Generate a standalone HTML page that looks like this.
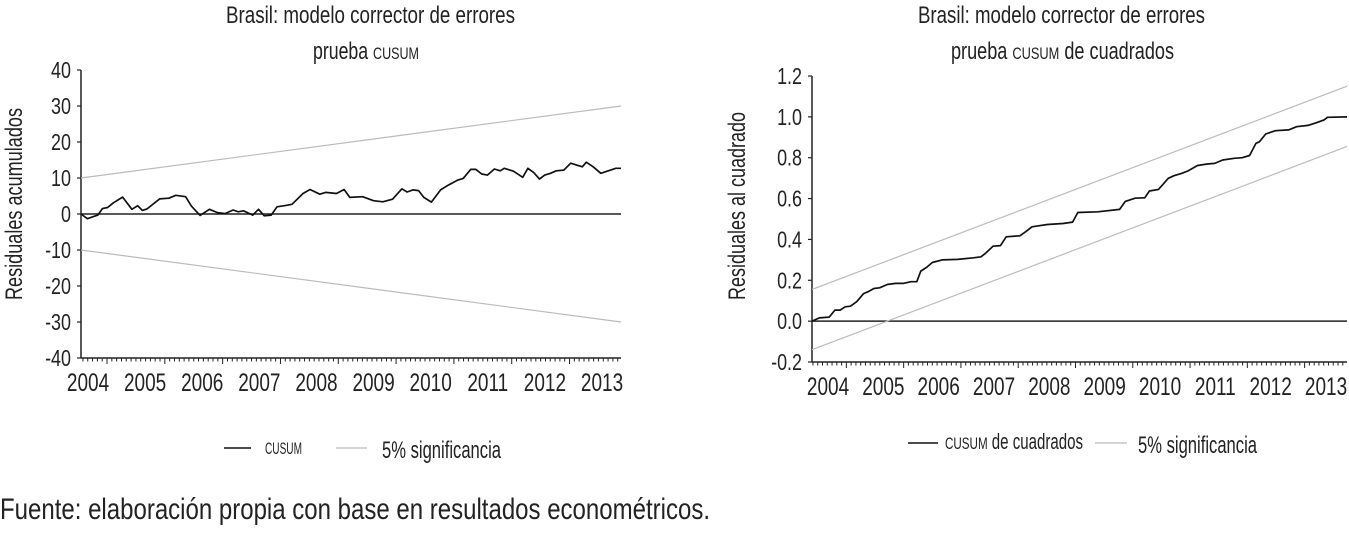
<!DOCTYPE html>
<html><head><meta charset="utf-8"><style>
body{margin:0;background:#fff;}
svg text{font-family:"Liberation Sans Narrow","Liberation Sans",sans-serif;fill:#222;}
</style></head><body>
<svg width="1349" height="529" viewBox="0 0 1349 529" xmlns="http://www.w3.org/2000/svg">
<g id="left"></g>
<g id="right"></g>
<text x="0" y="519" font-size="30" textLength="710" lengthAdjust="spacingAndGlyphs">Fuente: elaboración propia con base en resultados econométricos.</text>
</svg>
<script>
// Left chart data
const cusumT = [2004.55,2004.66,2004.84,2004.92,2005.01,2005.11,2005.27,2005.43,2005.53,2005.61,2005.69,2005.91,2006.07,2006.19,2006.36,2006.46,2006.61,2006.77,2006.91,2007.04,2007.18,2007.27,2007.36,2007.52,2007.62,2007.72,2007.84,2007.94,2008.07,2008.2,2008.39,2008.51,2008.68,2008.78,2008.97,2009.1,2009.2,2009.42,2009.61,2009.77,2009.94,2010.1,2010.19,2010.29,2010.39,2010.48,2010.61,2010.77,2010.9,2011.06,2011.16,2011.29,2011.38,2011.48,2011.58,2011.7,2011.8,2011.87,2012.03,2012.19,2012.28,2012.38,2012.48,2012.57,2012.67,2012.77,2012.9,2013.02,2013.22,2013.29,2013.41,2013.54,2013.67,2013.8,2013.89];
const cusumV = [0,-1.3,-0.3,1.5,1.8,3.1,4.7,1.3,2.3,1,1.4,4.2,4.4,5.2,4.8,2.2,-0.4,1.3,0.4,0.1,1.1,0.6,0.9,-0.3,1.3,-0.5,-0.3,2,2.3,2.7,5.7,6.8,5.5,6,5.7,6.8,4.6,4.8,3.7,3.4,4.1,7,6.1,6.7,6.5,4.6,3.3,6.7,8,9.4,9.9,12.4,12.4,11.1,10.8,12.5,12,12.7,11.9,10.2,12.7,11.5,9.7,10.8,11.3,12,12.2,14.1,13.1,14.4,13.1,11.3,12,12.7,12.7];
const cusumBandUpper = [10,30];
const cusumBandLower = [-10,-30];
const leftYTicks = [40,30,20,10,0,-10,-20,-30,-40];
// Right chart data
const sqT = [2004.4,2004.53,2004.7,2004.8,2004.89,2004.98,2005.07,2005.18,2005.3,2005.38,2005.48,2005.58,2005.72,2005.86,2005.99,2006.13,2006.23,2006.3,2006.4,2006.5,2006.67,2006.94,2007.22,2007.35,2007.42,2007.56,2007.69,2007.79,2008.03,2008.13,2008.24,2008.37,2008.51,2008.78,2008.95,2009.04,2009.39,2009.77,2009.87,2010.04,2010.21,2010.29,2010.45,2010.62,2010.72,2010.85,2010.96,2011.13,2011.3,2011.43,2011.57,2011.77,2011.91,2012.04,2012.15,2012.21,2012.32,2012.49,2012.72,2012.86,2013.06,2013.2,2013.34,2013.4,2013.74];
const sqV = [0,0.016,0.02,0.054,0.054,0.07,0.073,0.095,0.135,0.144,0.16,0.163,0.18,0.185,0.185,0.193,0.193,0.245,0.263,0.287,0.3,0.302,0.31,0.315,0.33,0.367,0.37,0.413,0.418,0.438,0.462,0.467,0.473,0.478,0.485,0.532,0.535,0.547,0.586,0.602,0.604,0.637,0.645,0.699,0.712,0.723,0.735,0.762,0.769,0.772,0.789,0.797,0.8,0.811,0.87,0.878,0.916,0.932,0.936,0.952,0.958,0.971,0.985,0.998,1.0];
const sqBandUpper = [0.155,1.15];
const sqBandLower = [-0.14,0.855];
const rightYTicks = [1.2,1.0,0.8,0.6,0.4,0.2,0.0,-0.2];
const years = [2004,2005,2006,2007,2008,2009,2010,2011,2012,2013];

const NS='http://www.w3.org/2000/svg';
function mk(parent,tag,attrs,text){const e=document.createElementNS(NS,tag);for(const k in attrs)e.setAttribute(k,attrs[k]);if(text!==undefined)e.textContent=text;parent.appendChild(e);return e;}

function drawChart(g,cfg){
  const xs=t=>cfg.x0+(t-cfg.t0)*(cfg.x1-cfg.x0)/(cfg.t1-cfg.t0);
  const ys=v=>cfg.y0+(cfg.vmax-v)*(cfg.y1-cfg.y0)/(cfg.vmax-cfg.vmin);
  let e=mk(g,'text',{x:cfg.tx,y:23,'font-size':24,textLength:cfg.tw1,lengthAdjust:'spacingAndGlyphs'},'Brasil: modelo corrector de errores');
  
  
  e=mk(g,'text',{x:cfg.sx,y:59,'font-size':24,textLength:cfg.sw,lengthAdjust:'spacingAndGlyphs'});
  
  
  e.innerHTML=cfg.sub;
  e=mk(g,'text',{x:0,y:0,'font-size':24,'text-anchor':'middle',textLength:cfg.ytw,lengthAdjust:'spacingAndGlyphs',transform:`translate(${cfg.ytx},${cfg.ytc}) rotate(-90)`},cfg.ytitle);
  
  
  e=mk(g,'line',{x1:cfg.x0,y1:cfg.y0,x2:cfg.x0,y2:cfg.y1,stroke:'#222','stroke-width':1.5});
  
  
  e=mk(g,'line',{x1:cfg.x0,y1:cfg.y1,x2:cfg.x1,y2:cfg.y1,stroke:'#222','stroke-width':1.5});
  
  
  cfg.yt.forEach(v=>{
    const y=ys(v);
    const t=mk(g,'line',{x1:cfg.x0-4,y1:y,x2:cfg.x0,y2:y,stroke:'#222','stroke-width':1.2});
    
    
    const l=mk(g,'text',{x:0,y:0,'font-size':23,'text-anchor':'end',transform:`translate(${cfg.x0-10},${y+8}) scale(0.78,1)`},cfg.fmt(v));
    
    
  });
  for(let m=Math.ceil(cfg.t0*12);m<=cfg.t1*12;m++){
    const t=m/12,x=xs(t),major=(m%12===0);
    const tk=mk(g,'line',{x1:x,y1:cfg.y1,x2:x,y2:cfg.y1+(major?6:3.5),stroke:'#222','stroke-width':1});
    
    
  }
  years.forEach((yr,i)=>{
    const lx=cfg.lx0+i*(cfg.lx1-cfg.lx0)/(years.length-1);
    const l=mk(g,'text',{x:0,y:0,'font-size':25,'text-anchor':'middle',transform:`translate(${lx},${cfg.y1+33}) scale(0.76,1)`},String(yr));
    
    
  });
  e=mk(g,'line',{x1:cfg.x0,y1:ys(0),x2:cfg.x1,y2:ys(0),stroke:'#222','stroke-width':1.5});
  
  
  [cfg.bu,cfg.bl].forEach((b,i)=>{
    const l=mk(g,'line',{x1:xs(cfg.t0),y1:ys(b[0]),x2:xs(cfg.t1),y2:ys(b[1]),stroke:'#bbb','stroke-width':1.2});
    
    
  });
  const pts=cfg.T.map((t,i)=>xs(t).toFixed(1)+','+ys(cfg.V[i]).toFixed(1)).join(' ');
  e=mk(g,'polyline',{points:pts,fill:'none',stroke:'#111','stroke-width':1.7,'stroke-linejoin':'round'});
  
  
  const L=cfg.leg;
  e=mk(g,'line',{x1:L[0],y1:L[1],x2:L[2],y2:L[1],stroke:'#111','stroke-width':1.5});
  
  
  e=mk(g,'text',{x:L[3],y:L[1]+6,'font-size':22,textLength:L[7],lengthAdjust:'spacingAndGlyphs'});
  
  
  e.innerHTML=cfg.legText;
  e=mk(g,'line',{x1:L[4],y1:L[1],x2:L[5],y2:L[1],stroke:'#bbb','stroke-width':1.2});
  
  
  e=mk(g,'text',{x:L[6],y:L[1]+10,'font-size':24,textLength:119,lengthAdjust:'spacingAndGlyphs'},'5%  significancia');
  
  
}

drawChart(document.getElementById('left'),{
  x0:81,x1:621,t0:2004.55,t1:2013.89,y0:70,y1:358,vmax:40,vmin:-40,
  tx:226,tw1:289,sx:313,sw:106,sub:'prueba <tspan font-size="17">CUSUM</tspan>',
  ytitle:'Residuales acumulados',ytx:22,ytc:204,ytw:192,
  yt:leftYTicks,fmt:v=>String(v),lx0:88,lx1:602,T:cusumT,V:cusumV,bu:cusumBandUpper,bl:cusumBandLower,
  leg:[224,448,251,265,336,367,382,37],legText:'<tspan font-size="17">CUSUM</tspan>'
});
drawChart(document.getElementById('right'),{
  x0:812,x1:1347,t0:2004.4,t1:2013.74,y0:76,y1:362,vmax:1.2,vmin:-0.2,
  tx:918,tw1:287,sx:951,sw:223,sub:'prueba <tspan font-size="17">CUSUM</tspan> de cuadrados',
  ytitle:'Residuales al cuadrado',ytx:745,ytc:206,ytw:188,
  yt:rightYTicks,fmt:v=>v.toFixed(1),lx0:828,lx1:1326,T:sqT,V:sqV,bu:sqBandUpper,bl:sqBandLower,
  leg:[908,443,938,945,1095,1127,1138,138],legText:'<tspan font-size="17">CUSUM</tspan> de cuadrados'
});
</script>
</body></html>
